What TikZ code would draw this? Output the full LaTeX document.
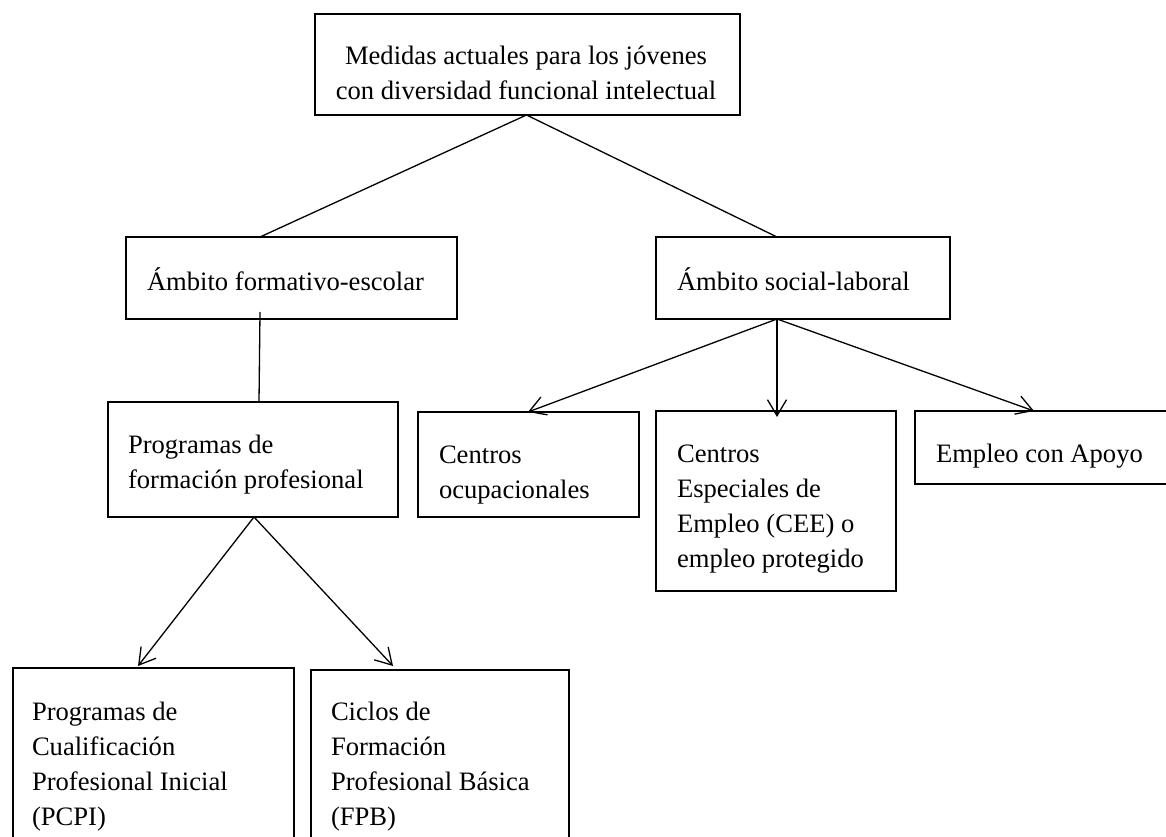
\documentclass[tikz,border=0pt]{standalone}
\usepackage{fontspec}
\setmainfont{Liberation Serif}
\usetikzlibrary{arrows.meta,calc}
\begin{document}
\begin{tikzpicture}[x=1pt,y=-1pt,
  box/.style={draw,line width=1.3pt,rectangle,inner sep=0pt,outer sep=0pt,anchor=north west},
  txt/.style={inner sep=0pt,outer sep=0pt,anchor=base west,font=\fontsize{26.6}{35}\selectfont},
  con/.style={line width=1.3pt},
  arr/.style={con,-{Straight Barb[length=16pt,width=19pt,line width=1.3pt]}}]
\clip (0,0) rectangle (1166,837);
% boxes
\node[box,minimum width=425pt,minimum height=101pt] (top) at (315,14) {};
\node[box,minimum width=331pt,minimum height=82pt] (form) at (126,237) {};
\node[box,minimum width=294pt,minimum height=82pt] (soc) at (656,237) {};
\node[box,minimum width=290pt,minimum height=115pt] (prog) at (108,402) {};
\node[box,minimum width=221pt,minimum height=105pt] (ocup) at (418,412) {};
\node[box,minimum width=240pt,minimum height=180pt] (cee) at (656,411) {};
\node[box,minimum width=260pt,minimum height=73pt] (emp) at (915,411) {};
\node[box,minimum width=281pt,minimum height=180pt] (pcpi) at (13,668) {};
\node[box,minimum width=258pt,minimum height=180pt] (fpb) at (311,670) {};
% texts
\node[txt,anchor=base] (ttop) at (526,65) {\vtop{\halign{\hfil#\hfil\cr Medidas actuales para los jóvenes\cr con diversidad funcional intelectual\cr}}};
\node[txt] (tform) at (147,290) {Ámbito formativo-escolar};
\node[txt] (tsoc) at (677,290) {Ámbito social-laboral};
\node[txt] (tprog) at (128,453) {\vtop{\hbox{Programas de}\hbox{formación profesional}}};
\node[txt] (tocup) at (439,463) {\vtop{\hbox{Centros}\hbox{ocupacionales}}};
\node[txt] (tcee) at (677,462) {\vtop{\hbox{Centros}\hbox{Especiales de}\hbox{Empleo (CEE) o}\hbox{empleo protegido}}};
\node[txt] (temp) at (936,462) {Empleo con Apoyo};
\node[txt] (tpcpi) at (32,720) {\vtop{\hbox{Programas de}\hbox{Cualificación}\hbox{Profesional Inicial}\hbox{(PCPI)}}};
\node[txt] (tfpb) at (331,720) {\vtop{\hbox{Ciclos de}\hbox{Formación}\hbox{Profesional Básica}\hbox{(FPB)}}};
% connectors
\draw[con] ([xshift=-1pt]top.south) -- ([xshift=134pt]form.north west);
\draw[con] ([xshift=-1pt]top.south) -- ([xshift=121pt]soc.north west);
\draw[con] ([xshift=134pt,yshift=7pt]form.south west) -- ([xshift=151pt]prog.north west);
\draw[arr] ([xshift=121pt]soc.south west) -- ([xshift=110pt]ocup.north west);
\draw[arr] ([xshift=121pt]soc.south west) -- ([xshift=121pt,yshift=-6pt]cee.north west);
\draw[arr] ([xshift=121pt]soc.south west) -- ([xshift=119pt]emp.north west);
\draw[arr] ([xshift=146pt]prog.south west) -- ([xshift=125pt,yshift=2pt]pcpi.north west);
\draw[arr] ([xshift=146pt]prog.south west) -- ([xshift=82pt,yshift=4pt]fpb.north west);
\end{tikzpicture}
\end{document}
